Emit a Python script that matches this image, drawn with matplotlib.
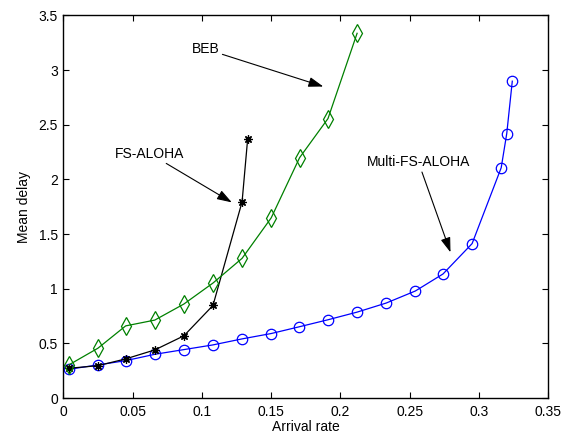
import matplotlib
matplotlib.use("Agg")
import matplotlib.pyplot as plt

plt.rcParams['font.family'] = ['Liberation Sans', 'DejaVu Sans']

# Multi-FS-ALOHA (blue circles)
multi_x = [0.004, 0.025, 0.045, 0.066, 0.087, 0.108, 0.129, 0.150, 0.170,
           0.191, 0.212, 0.233, 0.254, 0.274, 0.295, 0.316, 0.320, 0.324]
multi_y = [0.263, 0.303, 0.342, 0.400, 0.443, 0.486, 0.541, 0.590, 0.651,
           0.716, 0.786, 0.869, 0.979, 1.135, 1.413, 2.107, 2.420, 2.899]

# FS-ALOHA (black stars)
fs_x = [0.004, 0.025, 0.045, 0.066, 0.087, 0.108, 0.129, 0.133]
fs_y = [0.272, 0.296, 0.358, 0.440, 0.569, 0.847, 1.795, 2.367]

# BEB (green diamonds)
beb_x = [0.004, 0.025, 0.045, 0.066, 0.087, 0.108, 0.129, 0.150, 0.1705, 0.191, 0.212]
beb_y = [0.303, 0.456, 0.660, 0.713, 0.860, 1.052, 1.278, 1.648, 2.199, 2.557, 3.337]

x_ticks = [0, 0.05, 0.1, 0.15, 0.2, 0.25, 0.3, 0.35]
x_labels = ['0', '0.05', '0.1', '0.15', '0.2', '0.25', '0.3', '0.35']
y_ticks = [0, 0.5, 1, 1.5, 2, 2.5, 3, 3.5]
y_labels = ['0', '0.5', '1', '1.5', '2', '2.5', '3', '3.5']

fig = plt.figure(figsize=(5.72, 4.34), dpi=100)
ax = fig.add_axes([0.1107, 0.0829, 0.8479, 0.8814])

ax.plot(multi_x, multi_y, color='blue', lw=0.9, marker='o', markersize=7.5,
        markerfacecolor='none', markeredgecolor='blue', markeredgewidth=0.9)
ax.plot(fs_x, fs_y, color='black', lw=0.9, marker=(8, 2, 0), markersize=6,
        markeredgewidth=0.9)
ax.plot(beb_x, beb_y, color='green', lw=0.9, marker='d', markersize=9,
        markerfacecolor='none', markeredgecolor='green', markeredgewidth=0.9)

arrow = dict(arrowstyle='-|>,head_length=0.9,head_width=0.3', color='black',
             lw=0.8, shrinkA=0, shrinkB=0)
ax.annotate('BEB', xy=(0.1876, 2.85), xytext=(0.1028, 3.193), fontsize=10,
            ha='center', va='center', arrowprops=arrow)
ax.annotate('FS-ALOHA', xy=(0.1216, 1.79), xytext=(0.0624, 2.236), fontsize=10,
            ha='center', va='center', arrowprops=arrow)
ax.annotate('Multi-FS-ALOHA', xy=(0.2794, 1.333), xytext=(0.2563, 2.157), fontsize=10,
            ha='center', va='center', arrowprops=arrow)

ax.set_xlim(0, 0.35)
ax.set_ylim(0, 3.5)
ax.set_xticks(x_ticks)
ax.set_xticklabels(x_labels)
ax.set_yticks(y_ticks)
ax.set_yticklabels(y_labels)
ax.tick_params(direction='in', length=4, width=0.8, top=True, right=True,
               labelsize=10)
ax.tick_params(axis='x', pad=5)
ax.tick_params(axis='y', pad=4)
for s in ax.spines.values():
    s.set_linewidth(1.0)

ax.set_xlabel('Arrival rate', fontsize=10, labelpad=1)
ax.set_ylabel('Mean delay', fontsize=10, labelpad=5)

fig.savefig('out.png', dpi=100)
